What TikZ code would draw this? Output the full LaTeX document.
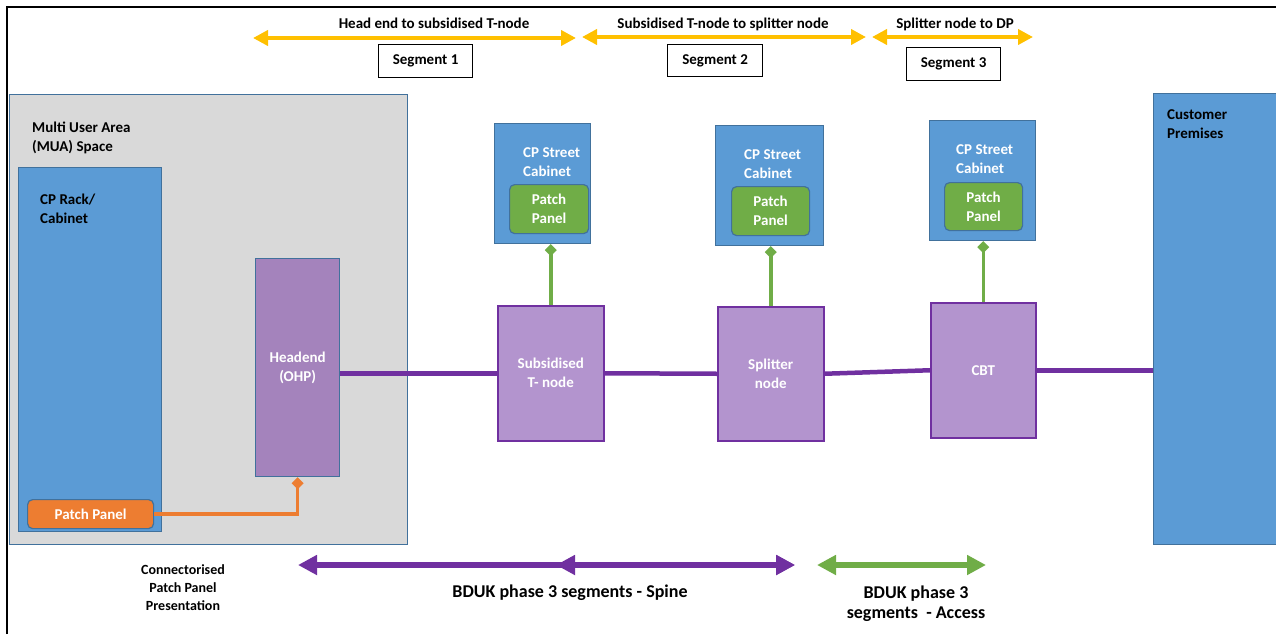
\documentclass[tikz,border=0pt]{standalone}
\usepackage{fontspec}
\setmainfont{Carlito}
\usetikzlibrary{arrows.meta,positioning}

\definecolor{cpblue}{HTML}{5B9BD5}
\definecolor{edgeblue}{HTML}{41719C}
\definecolor{muagrey}{HTML}{D9D9D9}
\definecolor{headpurple}{HTML}{A483BC}
\definecolor{nodepurple}{HTML}{B394CE}
\definecolor{spinepurple}{HTML}{7030A0}
\definecolor{ppgreen}{HTML}{70AD47}
\definecolor{pporange}{HTML}{ED7D31}
\definecolor{segyellow}{HTML}{FFC000}

\begin{document}
\begin{tikzpicture}[
    x=1pt, y=-1pt,
    font=\bfseries\fontsize{15}{19}\selectfont,
    box/.style={
        draw=edgeblue,
        line width=1.2pt,
        anchor=north west,
        inner sep=0pt
    },
    areabox/.style={box, fill=muagrey},
    cpbox/.style={box, fill=cpblue},
    headbox/.style={box, fill=headpurple, text=white, align=center},
    fibrebox/.style={box, draw=spinepurple, line width=1.5pt, fill=nodepurple,
        text=white, align=center},
    panelbox/.style={box, rounded corners=5pt, text=white, align=center},
    segbox/.style={box, draw=black, fill=white, line width=1.2pt},
    caption/.style={anchor=west, align=left, inner sep=0pt},
    fibre/.style={spinepurple, line width=4.5pt},
    patchlink/.style={line width=3.5pt, -{Diamond[length=12pt,width=12pt]}},
    segarrow/.style={segyellow, line width=4pt,
        {Triangle[length=15pt,width=15pt]}-{Triangle[length=15pt,width=15pt]}},
    phasearrow/.style={line width=6pt,
        {Triangle[length=19pt,width=19pt]}-{Triangle[length=19pt,width=19pt]}}
]
\useasboundingbox (0,0) rectangle (1276,634);

% frame
\draw[line width=2pt] (7,634) -- (7,7) -- (1276,7);

% multi user area
\node[areabox, minimum width=398, minimum height=450] (mua) at (9,94) {};
\node[caption] (muatext) at (32,138) {Multi User Area\\(MUA) Space};
\node[cpbox, minimum width=143, minimum height=364] (rack) at (18,167) {};
\node[caption] (racktext) at (40,209) {CP Rack/\\Cabinet};
\node[panelbox, fill=pporange, minimum width=126, minimum height=29] (rackpp) at (27,499) {Patch Panel};
\node[headbox, minimum width=84, minimum height=218] (headend) at (255,258) {Headend\\(OHP)};

% nodes along the spine
\node[fibrebox, minimum width=106, minimum height=135] (tnode) at (497,305) {Subsidised\\T- node};
\node[fibrebox, minimum width=106, minimum height=134] (splitter) at (717,306) {Splitter\\node};
\node[fibrebox, minimum width=105, minimum height=135] (cbt) at (930,302) {CBT};

% street cabinets
\node[cpbox, minimum width=96, minimum height=120] (cab1) at (494,123) {};
\node[caption, text=white] (cab1text) at (523,162) {CP Street\\Cabinet};
\node[panelbox, fill=ppgreen, minimum width=79, minimum height=49] (pp1) at (509,184) {Patch\\Panel};
\node[cpbox, minimum width=108, minimum height=120] (cab2) at (715,125) {};
\node[caption, text=white] (cab2text) at (744,164) {CP Street\\Cabinet};
\node[panelbox, fill=ppgreen, minimum width=78, minimum height=49] (pp2) at (731,186) {Patch\\Panel};
\node[cpbox, minimum width=106, minimum height=120] (cab3) at (929,120) {};
\node[caption, text=white] (cab3text) at (956,159) {CP Street\\Cabinet};
\node[panelbox, fill=ppgreen, minimum width=78, minimum height=48] (pp3) at (944,182) {Patch\\Panel};

% customer premises
\node[cpbox, minimum width=140, minimum height=451] (customer) at (1153,93) {};
\node[caption] (customertext) at (1167,124) {Customer\\Premises};

% connectors
\draw[patchlink, pporange] (rackpp.east) -| (headend.south);
\draw[patchlink, ppgreen] (tnode.north) -- (tnode.north |- cab1.south);
\draw[patchlink, ppgreen] (splitter.north) -- (splitter.north |- cab2.south);
\draw[patchlink, ppgreen] (cbt.north) -- (cbt.north |- cab3.south);
\draw[fibre] (headend.east |- tnode.west) -- (tnode.west);
\draw[fibre] (tnode.east) -- (splitter.west);
\draw[fibre] (splitter.east) -- (cbt.west);
\draw[fibre] (cbt.east) -- (cbt.east -| customer.west);

% segments
\coordinate (seg1L) at (253,38);
\coordinate (seg1R) at (576,38);
\coordinate (seg2L) at (582,37);
\coordinate (seg2R) at (866,37);
\coordinate (seg3L) at (872,37);
\coordinate (seg3R) at (1033,37);
\draw[segarrow] (seg1L) -- (seg1R);
\draw[segarrow] (seg2L) -- (seg2R);
\draw[segarrow] (seg3L) -- (seg3R);
\node (seg1text) at (434,23) {Head end to subsidised T-node};
\node (seg2text) at (723,24) {Subsidised T-node to splitter node};
\node (seg3text) at (955,24) {Splitter node to DP};
\node[segbox, minimum width=94, minimum height=33] (seg1) at (378,44) {};
\node (seg1label) at (seg1) {Segment 1};
\node[segbox, minimum width=95, minimum height=32] (seg2) at (667,44) {};
\node (seg2label) at (seg2) {Segment 2};
\node[segbox, minimum width=94, minimum height=33] (seg3) at (906,47) {};
\node (seg3label) at (seg3) {Segment 3};

% BDUK phase 3
\coordinate (spineL) at (298,565);
\coordinate (spineM) at (556,565);
\coordinate (spineR) at (795,565);
\coordinate (accessL) at (817,565);
\coordinate (accessR) at (986,565);
\draw[phasearrow, spinepurple] (spineL) -- (spineR);
\draw[phasearrow, spinepurple] (spineM) -- (spineR);
\draw[phasearrow, ppgreen] (accessL) -- (accessR);
\node[align=center, font=\bfseries\fontsize{14}{18}\selectfont] (cpptext) at (183,588) {Connectorised\\Patch Panel\\Presentation};
\node[font=\bfseries\fontsize{18}{20}\selectfont] (spinetext) at (570,593) {BDUK phase 3 segments - Spine};
\node[align=center, font=\bfseries\fontsize{18}{20}\selectfont] (accesstext) at (916,604) {BDUK phase 3\\segments\ \ - Access};
\end{tikzpicture}
\end{document}
